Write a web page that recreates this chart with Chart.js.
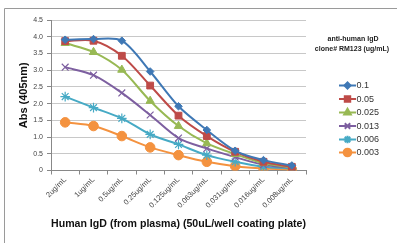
<!DOCTYPE html>
<html><head><meta charset="utf-8">
<script src="https://cdn.jsdelivr.net/npm/chart.js@4"></script>
<style>html,body{margin:0;padding:0;background:#fff}#w{width:397px;height:243px}</style>
</head><body><div id="w"><canvas id="c" width="397" height="243"></canvas></div>
<script>
const categories = ["2ug/mL","1ug/mL","0.5ug/mL","0.25ug/mL","0.125ug/mL","0.063ug/mL","0.031ug/mL","0.016ug/mL","0.008ug/mL"];
const seriesNames = ["0.1","0.05","0.025","0.013","0.006","0.003"];
const s01   = [3.91,3.93,3.88,2.96,1.92,1.21,0.59,0.31,0.15];
const s005  = [3.87,3.88,3.43,2.54,1.64,1.03,0.56,0.26,0.11];
const s0025 = [3.81,3.54,3.01,2.08,1.33,0.81,0.49,0.22,0.09];
const s0013 = [3.09,2.85,2.32,1.66,0.97,0.66,0.40,0.17,0.08];
const s0006 = [2.21,1.88,1.56,1.08,0.78,0.46,0.26,0.11,0.06];
const s0003 = [1.44,1.33,1.03,0.69,0.46,0.26,0.13,0.06,0.03];
const yTicks = [0,0.5,1,1.5,2,2.5,3,3.5,4,4.5];
const legendTitle = ["anti-human IgD","clone# RM123 (ug/mL)"];
const xTitle = "Human IgD (from plasma) (50uL/well coating plate)";
const yTitle = "Abs (405nm)";

const colors = ["#3F78B5","#BE4B48","#98B954","#7D5FA0","#46AAC5","#F4923F"];
const styles = ["rectRot","rect","triangle","crossRot","star","circle"];
const radii = [3.8,4.8,4.8,4.8,4.8,4.8];
const vals = [s01,s005,s0025,s0013,s0006,s0003];

const datasets = vals.map((v,i)=>({
  label: seriesNames[i], data: v,
  borderColor: colors[i], backgroundColor: colors[i],
  borderWidth: 2, pointStyle: styles[i], pointRadius: radii[i],
  pointBorderColor: colors[i], pointBackgroundColor: colors[i],
  pointBorderWidth: (styles[i]==="crossRot"||styles[i]==="star")?1.2:1,
  tension: 0.3, cubicInterpolationMode: 'default'
}));

const font = "'Liberation Sans', Arial, sans-serif";

const frame = {
  id:'frame',
  beforeDraw(chart){
    const ctx = chart.ctx;
    ctx.save();
    ctx.strokeStyle = '#9a9a9a'; ctx.lineWidth = 1;
    ctx.beginPath();
    ctx.moveTo(4.5, 243); ctx.lineTo(4.5, 8.5); ctx.lineTo(397, 8.5);
    ctx.stroke();
    ctx.restore();
  },
  afterDraw(chart){
    const ctx = chart.ctx;
    ctx.save();
    ctx.fillStyle = '#222';
    ctx.textAlign = 'center'; ctx.textBaseline = 'middle';
    ctx.font = "bold 7px " + font;
    ctx.fillText(legendTitle[0], 353, 39);
    ctx.fillText(legendTitle[1], 352, 49.5);
    const ys = [85.5,99,112.5,126,139.5,152.5];
    chart.data.datasets.forEach((d,i)=>{
      const y = ys[i];
      ctx.strokeStyle = d.borderColor; ctx.lineWidth = 2;
      ctx.beginPath(); ctx.moveTo(339, y); ctx.lineTo(356, y); ctx.stroke();
      ctx.fillStyle = d.borderColor;
      ctx.strokeStyle = d.borderColor;
      Chart.helpers.drawPoint(ctx, {pointStyle: d.pointStyle, radius: d.pointRadius*0.8, borderWidth: 1, rotation:0}, 347.5, y);
      ctx.fillStyle = '#333';
      ctx.textAlign = 'left';
      ctx.font = "9px " + font;
      ctx.fillText(d.label, 356.5, y+0.5);
    });
    ctx.restore();
  }
};

new Chart(document.getElementById('c'), {
  type: 'line',
  data: { labels: categories, datasets },
  options: {
    responsive: false, animation: false, devicePixelRatio: 1,
    layout: { padding: { left: 0, right: 91, top: 20, bottom: 0 } },
    plugins: { legend: { display: false }, tooltip: { enabled: false } },
    scales: {
      x: {
        offset: true,
        grid: { display: true, drawOnChartArea: false, offset: true, color: '#888', tickLength: 4 },
        border: { color: '#888' },
        ticks: { maxRotation: 45, minRotation: 45, font: { size: 7.5, family: font }, color: '#444', padding: 1, autoSkip: false },
        title: { display: true, text: xTitle, font: { size: 10.8, weight: 'bold', family: font }, color: '#111', padding: { top: 0, bottom: 12 } },
        afterFit(s){ s.height = 72.5; }
      },
      y: {
        min: 0, max: 4.5,
        afterBuildTicks(s){ s.ticks = yTicks.map(v=>({value:v})); },
        grid: { color: '#c8c8c8', tickLength: 4, tickColor: '#888' },
        border: { color: '#888' },
        ticks: { font: { size: 7, family: font }, color: '#444', padding: 4 },
        title: { display: true, text: yTitle, font: { size: 11, weight: 'bold', family: font }, color: '#111', padding: { top: 17, bottom: 0 } },
        afterFit(s){ s.width = 51; }
      }
    }
  },
  plugins: [frame]
});
</script>
</body></html>
